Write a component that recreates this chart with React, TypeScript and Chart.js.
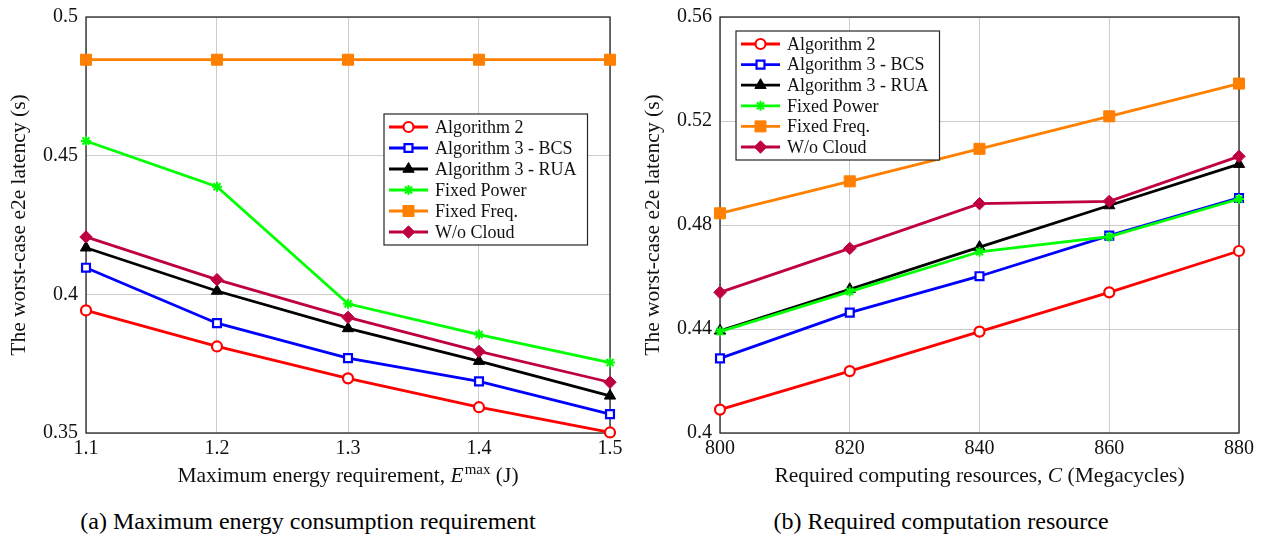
import React, { useEffect, useRef } from "react";
import { Chart, registerables } from "chart.js";
import { drawPoint } from "chart.js/helpers";

Chart.register(...registerables);

const FONT = "'Liberation Serif', 'Times New Roman', serif";

// ---------- data ----------
const seriesNames = ["Algorithm 2", "Algorithm 3 - BCS", "Algorithm 3 - RUA", "Fixed Power", "Fixed Freq.", "W/o Cloud"];
const seriesColors = ["#ff0000", "#0000ff", "#000000", "#00ff00", "#ff8000", "#bf0040"];

// (a) Maximum energy requirement
const energyMax = [1.1, 1.2, 1.3, 1.4, 1.5];
const alg2A = [0.3942, 0.3812, 0.3697, 0.3593, 0.3502];
const bcsA = [0.4096, 0.3896, 0.377, 0.3686, 0.3568];
const ruaA = [0.4168, 0.4012, 0.3877, 0.3759, 0.3634];
const fixedPowerA = [0.4553, 0.4388, 0.3966, 0.3855, 0.3754];
const fixedFreqA = [0.4846, 0.4846, 0.4846, 0.4846, 0.4846];
const woCloudA = [0.4207, 0.4053, 0.3917, 0.3794, 0.3683];
const xTicksA = [1.1, 1.2, 1.3, 1.4, 1.5];
const yTicksA = [0.35, 0.4, 0.45, 0.5];

// (b) Required computing resources
const resources = [800, 820, 840, 860, 880];
const alg2B = [0.409, 0.4238, 0.439, 0.4541, 0.47];
const bcsB = [0.4287, 0.4463, 0.4603, 0.4759, 0.4904];
const ruaB = [0.4393, 0.4553, 0.4715, 0.4875, 0.5034];
const fixedPowerB = [0.439, 0.4544, 0.4697, 0.4755, 0.49];
const fixedFreqB = [0.4845, 0.4968, 0.5093, 0.5218, 0.5344];
const woCloudB = [0.4541, 0.471, 0.4882, 0.4891, 0.5064];
const xTicksB = [800, 820, 840, 860, 880];
const yTicksB = [0.4, 0.44, 0.48, 0.52, 0.56];

type Marker = { pointStyle: any; radius: number; borderWidth: number; hollow: boolean };
const markers: Marker[] = [
  { pointStyle: "circle", radius: 5, borderWidth: 2.2, hollow: true },
  { pointStyle: "rect", radius: 5.6, borderWidth: 2.2, hollow: true },
  { pointStyle: "triangle", radius: 6.5, borderWidth: 1, hollow: false },
  { pointStyle: "star", radius: 5, borderWidth: 2, hollow: false },
  { pointStyle: "rect", radius: 7.8, borderWidth: 1, hollow: false },
  { pointStyle: "rectRot", radius: 6.2, borderWidth: 1, hollow: false },
];

type TitlePart = { t: string; italic?: boolean; sup?: boolean };

type PanelCfg = {
  left: number;
  width: number;
  padRight: number;
  xs: number[];
  series: number[][];
  xTicks: number[];
  yTicks: number[];
  xDecimals: number;
  yTitle: string;
  xTitle: TitlePart[];
  legendX: number;
  legendY: number;
  legendRow: number;
};

const panels: PanelCfg[] = [
  {
    left: 0,
    width: 630,
    padRight: 20,
    xs: energyMax,
    series: [alg2A, bcsA, ruaA, fixedPowerA, fixedFreqA, woCloudA],
    xTicks: xTicksA,
    yTicks: yTicksA,
    xDecimals: 1,
    yTitle: "The worst-case e2e latency (s)",
    xTitle: [{ t: "Maximum energy requirement, " }, { t: "E", italic: true }, { t: "max", sup: true }, { t: " (J)" }],
    legendX: 298,
    legendY: 97,
    legendRow: 21,
  },
  {
    left: 634,
    width: 628,
    padRight: 23,
    xs: resources,
    series: [alg2B, bcsB, ruaB, fixedPowerB, fixedFreqB, woCloudB],
    xTicks: xTicksB,
    yTicks: yTicksB,
    xDecimals: 0,
    yTitle: "The worst-case e2e latency (s)",
    xTitle: [{ t: "Required computing resources, " }, { t: "C", italic: true }, { t: " (Megacycles)" }],
    legendX: 16,
    legendY: 14,
    legendRow: 20.6,
  },
];

const CANVAS_H = 500;
const PLOT_TOP = 17;
const PLOT_BOTTOM = 433;
const Y_AXIS_W = 86;

function Panel({ cfg }: { cfg: PanelCfg }) {
  const ref = useRef<HTMLCanvasElement>(null);
  useEffect(() => {
    const decorations = {
      id: "decorations",
      beforeDatasetsDraw(chart: any) {
        const { ctx, chartArea } = chart;
        ctx.save();
        ctx.strokeStyle = "#262626";
        ctx.lineWidth = 1.3;
        ctx.strokeRect(chartArea.left, chartArea.top, chartArea.right - chartArea.left, chartArea.bottom - chartArea.top);
        ctx.restore();
      },
      afterDraw(chart: any) {
        const { ctx, chartArea } = chart;
        ctx.save();
        // legend
        ctx.font = `18px ${FONT}`;
        const tw = Math.max(...seriesNames.map((n) => ctx.measureText(n).width));
        const bx = chartArea.left + cfg.legendX;
        const by = chartArea.top + cfg.legendY;
        const bw = 51 + tw + 11;
        const bh = 26 + 5 * cfg.legendRow;
        ctx.fillStyle = "#ffffff";
        ctx.fillRect(bx, by, bw, bh);
        ctx.strokeStyle = "#262626";
        ctx.lineWidth = 1.2;
        ctx.strokeRect(bx, by, bw, bh);
        seriesNames.forEach((name, i) => {
          const cy = by + 13 + i * cfg.legendRow;
          ctx.strokeStyle = seriesColors[i];
          ctx.lineWidth = 2.8;
          ctx.beginPath();
          ctx.moveTo(bx + 5, cy);
          ctx.lineTo(bx + 44, cy);
          ctx.stroke();
          const m = markers[i];
          ctx.fillStyle = m.hollow ? "#ffffff" : seriesColors[i];
          ctx.strokeStyle = seriesColors[i];
          ctx.lineWidth = m.borderWidth;
          drawPoint(ctx, { pointStyle: m.pointStyle, radius: m.radius, borderWidth: m.borderWidth, rotation: 0 } as any, bx + 24.5, cy);
          ctx.fillStyle = "#111111";
          ctx.font = `18px ${FONT}`;
          ctx.textAlign = "left";
          ctx.textBaseline = "middle";
          ctx.fillText(name, bx + 51, cy + 1);
        });
        // y title
        ctx.save();
        ctx.translate(chartArea.left - 67, (chartArea.top + chartArea.bottom) / 2);
        ctx.rotate(-Math.PI / 2);
        ctx.font = `21.5px ${FONT}`;
        ctx.fillStyle = "#111111";
        ctx.textAlign = "center";
        ctx.textBaseline = "middle";
        ctx.fillText(cfg.yTitle, 0, 0);
        ctx.restore();
        // x title (mixed fonts)
        const fontFor = (p: TitlePart) =>
          p.sup ? `15px ${FONT}` : p.italic ? `italic 21.5px ${FONT}` : `21.5px ${FONT}`;
        let total = 0;
        cfg.xTitle.forEach((p) => {
          ctx.font = fontFor(p);
          total += ctx.measureText(p.t).width + (p.sup ? 1 : 0);
        });
        let x = (chartArea.left + chartArea.right) / 2 - total / 2;
        const baseY = 482;
        ctx.fillStyle = "#111111";
        ctx.textAlign = "left";
        ctx.textBaseline = "alphabetic";
        cfg.xTitle.forEach((p) => {
          ctx.font = fontFor(p);
          ctx.fillText(p.t, x + (p.sup ? 1 : 0), p.sup ? baseY - 8 : baseY);
          x += ctx.measureText(p.t).width + (p.sup ? 1 : 0);
        });
        ctx.restore();
      },
    };

    const datasets = cfg.series.map((vals, i) => ({
      label: seriesNames[i],
      data: vals.map((v, j) => ({ x: cfg.xs[j], y: v })),
      borderColor: seriesColors[i],
      backgroundColor: markers[i].hollow ? "#ffffff" : seriesColors[i],
      pointBackgroundColor: markers[i].hollow ? "#ffffff" : seriesColors[i],
      pointBorderColor: seriesColors[i],
      pointStyle: markers[i].pointStyle,
      pointRadius: markers[i].radius,
      pointBorderWidth: markers[i].borderWidth,
      borderWidth: 2.8,
      tension: 0,
      clip: false as any,
      order: seriesNames.length - i,
    }));

    const xT = cfg.xTicks;
    const yT = cfg.yTicks;

    const chart = new Chart(ref.current!, {
      type: "line",
      data: { datasets },
      options: {
        animation: false,
        responsive: false,
        devicePixelRatio: 1,
        layout: { padding: { left: 0, top: PLOT_TOP, right: cfg.padRight, bottom: 0 } },
        plugins: { legend: { display: false }, tooltip: { enabled: false } },
        scales: {
          x: {
            type: "linear",
            min: xT[0],
            max: xT[xT.length - 1],
            afterBuildTicks: (scale: any) => {
              scale.ticks = xT.map((v) => ({ value: v }));
            },
            afterFit: (scale: any) => {
              scale.height = CANVAS_H - PLOT_BOTTOM;
              scale.paddingLeft = 0;
              scale.paddingRight = 0;
              scale.paddingTop = 0;
              scale.paddingBottom = 0;
            },
            grid: { color: "#cccccc", lineWidth: 1, drawTicks: false },
            border: { display: false },
            ticks: {
              padding: 4,
              color: "#111111",
              font: { family: FONT, size: 20 },
              maxRotation: 0,
              autoSkip: false,
              callback: (v: any) => Number(v).toFixed(cfg.xDecimals),
            },
          },
          y: {
            type: "linear",
            min: yT[0],
            max: yT[yT.length - 1],
            afterBuildTicks: (scale: any) => {
              scale.ticks = yT.map((v) => ({ value: v }));
            },
            afterFit: (scale: any) => {
              scale.width = Y_AXIS_W;
              scale.paddingLeft = 0;
              scale.paddingRight = 0;
              scale.paddingTop = 0;
              scale.paddingBottom = 0;
            },
            grid: { color: "#cccccc", lineWidth: 1, drawTicks: false },
            border: { display: false },
            ticks: {
              padding: 8,
              color: "#111111",
              font: { family: FONT, size: 20 },
              autoSkip: false,
              callback: (v: any) => String(Number(Number(v).toFixed(2))),
            },
          },
        },
      } as any,
      plugins: [decorations],
    });
    return () => chart.destroy();
  }, [cfg]);
  return (
    <canvas
      ref={ref}
      width={cfg.width}
      height={CANVAS_H}
      style={{ position: "absolute", left: cfg.left, top: 0, width: cfg.width, height: CANVAS_H }}
    />
  );
}

const captions = [
  { text: "(a) Maximum energy consumption requirement", center: 308 },
  { text: "(b) Required computation resource", center: 941 },
];

export default function App() {
  return (
    <div style={{ position: "absolute", left: 0, top: 0, width: 1262, height: 537, background: "#ffffff", overflow: "hidden" }}>
      {panels.map((p, i) => (
        <Panel key={i} cfg={p} />
      ))}
      {captions.map((c, i) => (
        <div
          key={i}
          style={{
            position: "absolute",
            left: c.center - 320,
            width: 640,
            top: 509,
            textAlign: "center",
            fontFamily: FONT,
            fontSize: 24,
            lineHeight: "24px",
            color: "#000",
            whiteSpace: "nowrap",
          }}
        >
          {c.text}
        </div>
      ))}
    </div>
  );
}
